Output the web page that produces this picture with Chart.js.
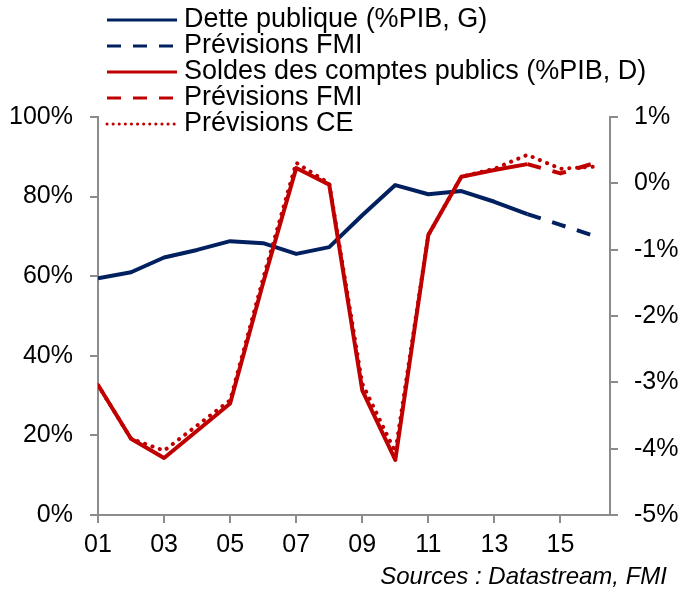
<!doctype HTML>
<html lang="fr">
<head>
    <meta charset=utf-8>
    <title>Dette et soldes publics</title>
    <style type="text/css">
        * {
            padding: 0;
            margin: 0;
        }

        div {
            width: 681px;
            height: 589px;
        }
    </style>
    <script src="https://cdn.jsdelivr.net/npm/chart.js"></script>
</head>
<body>
    <div>
        <canvas id="debtChart" width="681" height="589"></canvas>
    </div>

    <script type="text/javascript">
        // years 2001..2016, shown as 01..16
        const years = [1, 2, 3, 4, 5, 6, 7, 8, 9, 10, 11, 12, 13, 14, 15, 16];
        const xTicks = [1, 3, 5, 7, 9, 11, 13, 15];

        const debt = [59.5, 61.0, 64.7, 66.6, 68.8, 68.3, 65.6, 67.3, 75.3, 82.9, 80.6, 81.4, 78.7, 75.6, null, null];
        const debtIMF = [null, null, null, null, null, null, null, null, null, null, null, null, null, 75.6, 72.9, 70.2];

        const balance = [-3.04, -3.85, -4.14, -3.73, -3.32, -1.5, 0.23, -0.02, -3.12, -4.17, -0.78, 0.10, 0.20, 0.29, null, null];
        const balanceIMF = [null, null, null, null, null, null, null, null, null, null, null, null, null, 0.29, 0.15, 0.30];
        const balanceCE = [-3.04, -3.85, -4.03, -3.65, -3.27, -1.43, 0.31, 0.00, -3.02, -4.05, -0.78, 0.10, 0.22, 0.43, 0.22, 0.25];

        const source = 'Sources : Datastream, FMI';

        const navy = '#002060';
        const red = '#c00000';
        const axisGrey = '#8c8c8c';
        const fontFamily = '"Liberation Sans", Arial, sans-serif';

        Chart.defaults.font.family = fontFamily;
        Chart.defaults.color = '#000';

        // one legend entry per row at the top left, plus the source line
        const legendRows = {
            id: 'legendRows',
            afterDraw(chart) {
                const ctx = chart.ctx;
                ctx.save();
                ctx.font = '27px ' + fontFamily;
                ctx.textBaseline = 'middle';
                ctx.fillStyle = '#000';
                chart.data.datasets.forEach((ds, i) => {
                    const y = 20 + i * 26;
                    ctx.beginPath();
                    ctx.strokeStyle = ds.borderColor;
                    ctx.lineWidth = 3;
                    ctx.lineCap = ds.borderCapStyle || 'butt';
                    ctx.setLineDash(ds.legendDash || ds.borderDash || []);
                    ctx.moveTo(107, y);
                    ctx.lineTo(177, y);
                    ctx.stroke();
                    ctx.setLineDash([]);
                    ctx.fillText(ds.label, 184, y);
                });

                ctx.font = 'italic 24px ' + fontFamily;
                ctx.textAlign = 'right';
                ctx.fillText(source, 667, 577);
                ctx.restore();
            }
        };

        const line = (label, data, color, axis, extra) => Object.assign({
            label: label,
            data: data,
            borderColor: color,
            backgroundColor: color,
            borderWidth: 4,
            pointRadius: 0,
            tension: 0,
            borderJoinStyle: 'round',
            yAxisID: axis
        }, extra);

        const data = {
            labels: years,
            datasets: [
                line('Dette publique (%PIB, G)', debt, navy, 'y', { order: 2 }),
                line('Prévisions FMI', debtIMF, navy, 'y', { order: 2, borderDash: [14, 12] }),
                line('Soldes des comptes publics (%PIB, D)', balance, red, 'y1', { order: 1 }),
                line('Prévisions FMI', balanceIMF, red, 'y1', { order: 1, borderDash: [14, 12] }),
                line('Prévisions CE', balanceCE, red, 'y1', {
                    order: 1, borderDash: [0.1, 7.7], borderCapStyle: 'round', legendDash: [0.1, 6]
                })
            ]
        };

        const axisGrid = { drawOnChartArea: false, tickLength: 8, color: axisGrey, lineWidth: 2 };
        const axisBorder = { color: axisGrey, width: 2 };

        const config = {
            type: 'line',
            data,
            options: {
                responsive: false,
                animation: false,
                layout: { padding: { top: 117, right: 0, bottom: 24, left: 0 } },
                scales: {
                    x: {
                        type: 'linear',
                        min: 1,
                        max: 16.5,
                        afterBuildTicks: s => { s.ticks = xTicks.map(v => ({ value: v })); },
                        afterFit: s => { s.height = 50; },
                        grid: axisGrid,
                        border: axisBorder,
                        ticks: {
                            padding: 7,
                            font: { size: 25 },
                            maxRotation: 0,
                            autoSkip: false,
                            callback: v => String(v).padStart(2, '0')
                        }
                    },
                    y: {
                        position: 'left',
                        min: 0,
                        max: 100,
                        afterFit: s => { s.width = 98; },
                        grid: axisGrid,
                        border: axisBorder,
                        ticks: { stepSize: 20, padding: 17, font: { size: 25 }, callback: v => v + '%' }
                    },
                    y1: {
                        position: 'right',
                        min: -5,
                        max: 1,
                        afterFit: s => { s.width = 71; },
                        grid: axisGrid,
                        border: axisBorder,
                        ticks: { stepSize: 1, padding: 16, font: { size: 25 }, callback: v => v + '%' }
                    }
                },
                plugins: {
                    legend: { display: false },
                    tooltip: { enabled: false }
                }
            },
            plugins: [legendRows]
        };

        const chart = new Chart(document.getElementById('debtChart'), config);
    </script>
</body>
</html>
